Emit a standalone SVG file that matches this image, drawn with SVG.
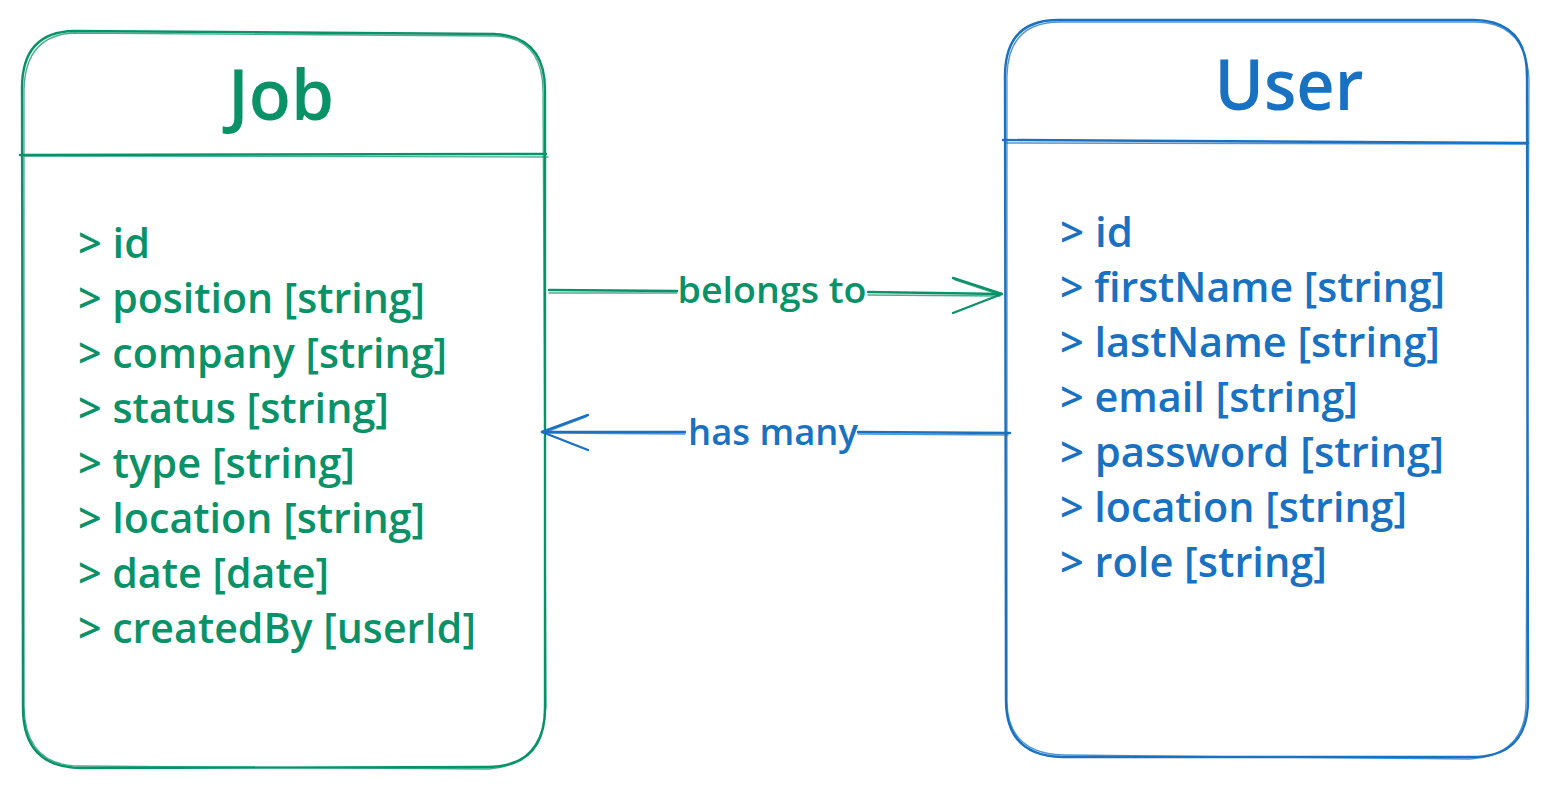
<svg xmlns="http://www.w3.org/2000/svg" width="1548" height="788" viewBox="0 0 1548 788">
<defs>
<style>
.bg{fill:#ffffff}
.g{stroke:#099268;fill:none;stroke-width:2.4;stroke-linecap:round;stroke-linejoin:round}
.g2{stroke:#099268;fill:none;stroke-width:1.3;stroke-opacity:0.75;stroke-linecap:round}
.b{stroke:#1971c2;fill:none;stroke-width:2.4;stroke-linecap:round;stroke-linejoin:round}
.b2{stroke:#1971c2;fill:none;stroke-width:1.3;stroke-opacity:0.75;stroke-linecap:round}
.tg{fill:#099268;font-family:"Open Sans","Noto Sans",sans-serif;font-weight:600}
.tb{fill:#1971c2;font-family:"Open Sans","Noto Sans",sans-serif;font-weight:600}
.title{font-size:70px;font-weight:600}
.field{font-size:41px}
.lbl{font-size:36px}
</style>
</defs>
<rect class="bg" x="0" y="0" width="1548" height="788"/>

<g id="job">
<path class="g" d="M74,31 L494,34 Q545,36 545,90 L545,708 Q545,767 487,767 L82,768 Q23,768 23,708 L22,88 Q22,32 74,31 Z"/>
<path class="g2" d="M76,33 L496,36 Q543,38 543,92 L546,706 Q543,765 489,769 L80,766 Q25,766 24,706 L24,90 Q25,34 76,33"/>
<path class="g" d="M20,155 L546,154"/>
<path class="g2" d="M24,156 L548,157"/>
<text class="tg title" x="281" y="120" text-anchor="middle" textLength="106" lengthAdjust="spacingAndGlyphs">Job</text>
<text class="tg field" x="78" y="258" textLength="72" lengthAdjust="spacingAndGlyphs">&gt; id</text>
<text class="tg field" x="78" y="313" textLength="347" lengthAdjust="spacingAndGlyphs">&gt; position [string]</text>
<text class="tg field" x="78" y="368" textLength="369" lengthAdjust="spacingAndGlyphs">&gt; company [string]</text>
<text class="tg field" x="78" y="423" textLength="311" lengthAdjust="spacingAndGlyphs">&gt; status [string]</text>
<text class="tg field" x="78" y="478" textLength="277" lengthAdjust="spacingAndGlyphs">&gt; type [string]</text>
<text class="tg field" x="78" y="533" textLength="347" lengthAdjust="spacingAndGlyphs">&gt; location [string]</text>
<text class="tg field" x="78" y="588" textLength="251" lengthAdjust="spacingAndGlyphs">&gt; date [date]</text>
<text class="tg field" x="78" y="643" textLength="398" lengthAdjust="spacingAndGlyphs">&gt; createdBy [userId]</text>
</g>

<g id="user">
<path class="b" d="M1058,20 L1474,20 Q1527,21 1527,76 L1528,700 Q1528,757 1472,757 L1062,757 Q1006,756 1006,700 L1005,74 Q1006,20 1058,20 Z"/>
<path class="b2" d="M1060,22 L1476,22 Q1525,23 1529,78 L1526,702 Q1526,755 1470,759 L1064,755 Q1008,754 1007,702 L1007,76 Q1008,22 1060,22"/>
<path class="b" d="M1003,140 L1528,143"/>
<path class="b2" d="M1006,143 L1526,144"/>
<text class="tb title" x="1289" y="110" text-anchor="middle" textLength="149" lengthAdjust="spacingAndGlyphs">User</text>
<text class="tb field" x="1060" y="247" textLength="73" lengthAdjust="spacingAndGlyphs">&gt; id</text>
<text class="tb field" x="1060" y="302" textLength="385" lengthAdjust="spacingAndGlyphs">&gt; firstName [string]</text>
<text class="tb field" x="1060" y="357" textLength="380" lengthAdjust="spacingAndGlyphs">&gt; lastName [string]</text>
<text class="tb field" x="1060" y="412" textLength="298" lengthAdjust="spacingAndGlyphs">&gt; email [string]</text>
<text class="tb field" x="1060" y="467" textLength="384" lengthAdjust="spacingAndGlyphs">&gt; password [string]</text>
<text class="tb field" x="1060" y="522" textLength="347" lengthAdjust="spacingAndGlyphs">&gt; location [string]</text>
<text class="tb field" x="1060" y="577" textLength="267" lengthAdjust="spacingAndGlyphs">&gt; role [string]</text>
</g>

<g id="connectors">
<g id="belongs-to">
<path class="g" d="M549,290 L677,291"/>
<path class="g2" d="M549,293 L677,293"/>
<path class="g" d="M868,292 L1001,294"/>
<path class="g2" d="M868,295 L1000,296"/>
<path class="g" d="M953,278 L1002,294 L953,313"/>
<path class="g2" d="M955,280 L1000,295"/>
<text class="tg lbl" x="772" y="303" text-anchor="middle" textLength="189" lengthAdjust="spacingAndGlyphs">belongs to</text>
</g>
<g id="has-many">
<path class="b" d="M1010,433 L858,432"/>
<path class="b2" d="M1008,435 L858,434"/>
<path class="b" d="M685,432 L542,432"/>
<path class="b2" d="M685,434 L544,433"/>
<path class="b" d="M588,415 L542,432 L588,450"/>
<path class="b2" d="M586,417 L544,433"/>
<text class="tb lbl" x="773" y="445" text-anchor="middle" textLength="170" lengthAdjust="spacingAndGlyphs">has many</text>
</g>
</g>
</svg>
